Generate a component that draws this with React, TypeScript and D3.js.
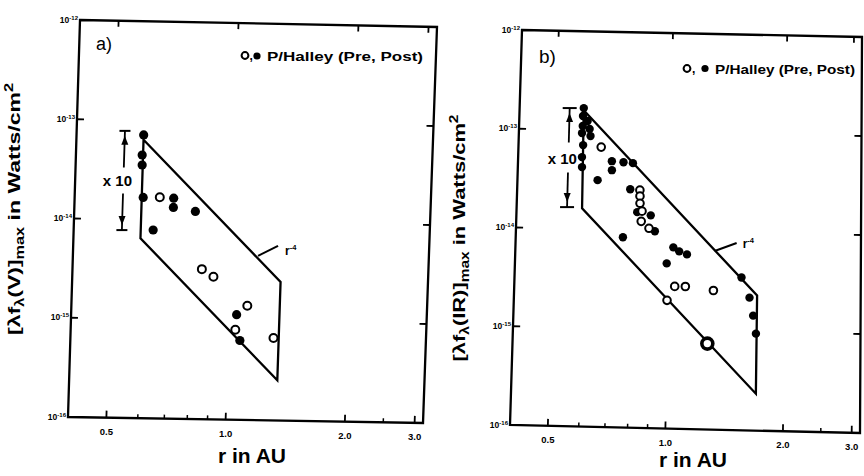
import React from 'react';
import * as d3 from 'd3';

type Pt = [number, number];

// ---- axis ticks ----
const xMajorTicks = [0.5, 1.0, 2.0, 3.0];
const xMajorLabels = ['0.5', '1.0', '2.0', '3.0'];
const xMinorTicks = [0.6, 0.7, 0.8, 0.9, 2.5];
const yDecades = [1e-12, 1e-13, 1e-14, 1e-15, 1e-16];
const yDecadeExps = ['-12', '-13', '-14', '-15', '-16'];

// ---- panel a: visual [λfλ(V)]max vs r (AU) ----
const aPost: Pt[] = [
  [0.59, 7.15e-14], [0.587, 4.49e-14], [0.588, 3.56e-14], [0.595, 1.68e-14],
  [0.634, 7.92e-15], [0.71, 1.67e-14], [0.71, 1.35e-14], [0.807, 1.24e-14],
  [1.045, 1.15e-15], [1.07, 6.32e-16],
];
const aPre: Pt[] = [
  [0.655, 1.70e-14], [0.847, 3.26e-15], [0.907, 2.75e-15], [1.11, 1.42e-15],
  [1.04, 8.09e-16], [1.30, 6.79e-16],
];
const aPreBig: Pt[] = [];
const aBand: Pt[] = [[0.59, 6.4e-14], [1.34, 2.5e-15], [1.34, 2.55e-16], [0.59, 6.5e-15]];
const aErrBar = { r: 0.529, top: 7.8e-14, bottom: 7.8e-15 };
const aSlopeAnchor: Pt = [1.17, 4.55e-15];

// ---- panel b: infrared [λfλ(IR)]max vs r (AU) ----
const bPost: Pt[] = [
  [0.589, 1.67e-13], [0.587, 1.39e-13], [0.604, 1.24e-13], [0.587, 1.10e-13],
  [0.612, 1.03e-13], [0.585, 9.32e-14], [0.616, 8.73e-14], [0.590, 7.05e-14],
  [0.587, 5.33e-14], [0.588, 4.22e-14], [0.703, 4.92e-14], [0.704, 3.99e-14],
  [0.754, 4.83e-14], [0.798, 4.75e-14], [0.647, 3.14e-14], [0.788, 2.58e-14],
  [0.824, 1.52e-14], [0.894, 1.42e-14], [0.918, 9.82e-15], [0.759, 8.41e-15],
  [1.027, 6.82e-15], [1.064, 6.23e-15], [1.115, 5.83e-15], [0.989, 4.68e-15],
  [1.547, 3.50e-15], [1.625, 2.20e-15], [1.663, 1.45e-15], [1.693, 9.55e-16],
];
const bPre: Pt[] = [
  [0.658, 6.79e-14], [0.835, 2.54e-14], [0.836, 2.21e-14], [0.837, 1.87e-14],
  [0.848, 1.56e-14], [0.845, 1.23e-14], [0.886, 1.05e-14], [1.04, 2.75e-15],
  [1.108, 2.76e-15], [1.31, 2.55e-15], [0.995, 1.98e-15],
];
const bPreBig: Pt[] = [[1.27, 7.39e-16]];
const bBand: Pt[] = [[0.589, 1.59e-13], [1.70, 2.32e-15], [1.70, 2.36e-16], [0.592, 1.62e-14]];
const bErrBar = { r: 0.541, top: 1.66e-13, bottom: 1.65e-14 };
const bSlopeAnchor: Pt = [1.315, 6.4e-15];

const xScale = d3.scaleLog().domain([0.4, 3.15]).range([0, 1]);
const yScale = d3.scaleLog().domain([1e-16, 1e-12]).range([1, 0]);

const FONT = "'Liberation Sans', Arial, Helvetica, sans-serif";

type Cfg = {
  corners: { tl: Pt; tr: Pt; bl: Pt; br: Pt };
  post: Pt[]; pre: Pt[]; preBig: Pt[]; band: Pt[];
  bar: { r: number; top: number; bottom: number };
  barGap: number; capHalf: number;
  slope: Pt; leaderDx: number; leaderDy: number; slopeDx: number; slopeDy: number;
  tag: string; tagPos: Pt; tagSize: number;
  legend: { open: Pt; filled: Pt; textX: number; textY: number; textLen: number; comma: Pt };
  yTitle: { x: number; y: number; len: number; band: string };
  xTitle: { x: number; y: number };
  dotR: number; openR: number;
};

function Panel({ cfg }: { cfg: Cfg }) {
  const { tl, tr, bl, br } = cfg.corners;
  const proj = (s: number, t: number): Pt => [
    (1 - s) * (1 - t) * tl[0] + s * (1 - t) * tr[0] + (1 - s) * t * bl[0] + s * t * br[0],
    (1 - s) * (1 - t) * tl[1] + s * (1 - t) * tr[1] + (1 - s) * t * bl[1] + s * t * br[1],
  ];
  const P = (r: number, f: number) => proj(xScale(r), yScale(f));
  const W = tr[0] - tl[0];
  const H = bl[1] - tl[1];
  const line = d3.line<Pt>().curve(d3.curveLinearClosed);

  const barTop = P(cfg.bar.r, cfg.bar.top);
  const barBot = P(cfg.bar.r, cfg.bar.bottom);
  const midY = (barTop[1] + barBot[1]) / 2;
  const bx = (y: number) => barTop[0] + ((y - barTop[1]) / (barBot[1] - barTop[1])) * (barBot[0] - barTop[0]);
  const slope = P(cfg.slope[0], cfg.slope[1]);
  const sw = 2.3;

  return (
    <g>
      {/* frame */}
      <path d={line([tl, tr, br, bl]) || ''} fill="none" stroke="#000" strokeWidth={sw} />
      {/* y ticks (left + right) */}
      {yDecades.map((d, i) => {
        const t = yScale(d);
        const a = proj(0, t), b = proj(7 / W, t);
        const c = proj(1, t), e = proj(1 - 7 / W, t);
        return (
          <g key={'y' + i}>
            {i > 0 && i < 4 && <line x1={a[0]} y1={a[1]} x2={b[0]} y2={b[1]} stroke="#000" strokeWidth={1.8} />}
            {i > 0 && i < 4 && <line x1={c[0]} y1={c[1]} x2={e[0]} y2={e[1]} stroke="#000" strokeWidth={1.8} />}
            <text x={a[0] - 2} y={a[1] + 2.5} textAnchor="end" fontFamily={FONT} fontWeight="bold" fontSize={8.5}>
              10<tspan fontSize={6} dy={-3}>{yDecadeExps[i]}</tspan>
            </text>
          </g>
        );
      })}
      {/* x ticks */}
      {xMajorTicks.map((v, i) => {
        const s = xScale(v);
        const a = proj(s, 1), b = proj(s, 1 - 7 / H);
        const c = proj(s, 0), e = proj(s, 6 / H);
        return (
          <g key={'x' + i}>
            <line x1={a[0]} y1={a[1]} x2={b[0]} y2={b[1]} stroke="#000" strokeWidth={1.8} />
            <line x1={c[0]} y1={c[1]} x2={e[0]} y2={e[1]} stroke="#000" strokeWidth={1.8} />
            <text x={a[0]} y={a[1] + 17} textAnchor="middle" fontFamily={FONT} fontWeight="bold" fontSize={9.5}>
              {xMajorLabels[i]}
            </text>
          </g>
        );
      })}
      {xMinorTicks.map((v, i) => {
        const s = xScale(v);
        const a = proj(s, 1), b = proj(s, 1 - 4 / H);
        return <line key={'m' + i} x1={a[0]} y1={a[1]} x2={b[0]} y2={b[1]} stroke="#000" strokeWidth={1.5} />;
      })}
      {/* r^-4 band */}
      <path d={line(cfg.band.map(([r, f]) => P(r, f))) || ''} fill="none" stroke="#000" strokeWidth={sw} strokeLinejoin="miter" />
      {/* x10 error bar */}
      <line x1={barTop[0] - cfg.capHalf} y1={barTop[1]} x2={barTop[0] + cfg.capHalf} y2={barTop[1]} stroke="#000" strokeWidth={2} />
      <line x1={barBot[0] - cfg.capHalf} y1={barBot[1]} x2={barBot[0] + cfg.capHalf} y2={barBot[1]} stroke="#000" strokeWidth={2} />
      <line x1={barTop[0]} y1={barTop[1]} x2={bx(midY - cfg.barGap)} y2={midY - cfg.barGap} stroke="#000" strokeWidth={1.8} />
      <line x1={bx(midY + cfg.barGap)} y1={midY + cfg.barGap} x2={barBot[0]} y2={barBot[1]} stroke="#000" strokeWidth={1.8} />
      <path d={`M${bx(barTop[1] + 5)},${barTop[1] + 5} l-3.5,9 l7,0 z`} fill="#000" />
      <path d={`M${bx(barBot[1] - 5)},${barBot[1] - 5} l-3.5,-9 l7,0 z`} fill="#000" />
      <text x={bx(midY) - 6} y={midY + 6} textAnchor="middle" fontFamily={FONT} fontWeight="bold" fontSize={15}>x 10</text>
      {/* slope label */}
      <line x1={slope[0]} y1={slope[1]} x2={slope[0] + cfg.leaderDx} y2={slope[1] + cfg.leaderDy} stroke="#000" strokeWidth={2} />
      <text x={slope[0] + cfg.slopeDx} y={slope[1] + cfg.slopeDy} fontFamily={FONT} fontWeight="bold" fontSize={12}>
        r<tspan fontSize={7.5} dy={-5}>-4</tspan>
      </text>
      {/* points */}
      {cfg.post.map(([r, f], i) => {
        const p = P(r, f);
        return <circle key={'f' + i} cx={p[0]} cy={p[1]} r={cfg.dotR} fill="#000" />;
      })}
      {cfg.pre.map(([r, f], i) => {
        const p = P(r, f);
        return <circle key={'o' + i} cx={p[0]} cy={p[1]} r={cfg.openR} fill="#fff" stroke="#000" strokeWidth={2} />;
      })}
      {cfg.preBig.map(([r, f], i) => {
        const p = P(r, f);
        return <circle key={'ob' + i} cx={p[0]} cy={p[1]} r={5.5} fill="#fff" stroke="#000" strokeWidth={3.6} />;
      })}
      {/* tag */}
      <text x={cfg.tagPos[0]} y={cfg.tagPos[1]} fontFamily={FONT} fontSize={cfg.tagSize}>{cfg.tag}</text>
      {/* legend */}
      <circle cx={cfg.legend.open[0]} cy={cfg.legend.open[1]} r={3.4} fill="#fff" stroke="#000" strokeWidth={2} />
      <text x={cfg.legend.comma[0]} y={cfg.legend.comma[1]} fontFamily={FONT} fontWeight="bold" fontSize={12}>,</text>
      <circle cx={cfg.legend.filled[0]} cy={cfg.legend.filled[1]} r={3.6} fill="#000" />
      <text x={cfg.legend.textX} y={cfg.legend.textY} fontFamily={FONT} fontWeight="bold" fontSize={12.5}
        textLength={cfg.legend.textLen} lengthAdjust="spacingAndGlyphs">P/Halley (Pre, Post)</text>
      {/* axis titles */}
      <text transform={`translate(${cfg.yTitle.x},${cfg.yTitle.y}) rotate(-90)`} textAnchor="middle"
        fontFamily={FONT} fontWeight="bold" fontSize={17} textLength={cfg.yTitle.len} lengthAdjust="spacingAndGlyphs">
        [λf<tspan dy={4} fontSize={12}>λ</tspan><tspan dy={-4}>{'(' + cfg.yTitle.band + ')]'}</tspan>
        <tspan dy={4} fontSize={12}>max</tspan><tspan dy={-4}>{' in Watts/cm'}</tspan>
        <tspan dy={-7} fontSize={12}>2</tspan>
      </text>
      <text x={cfg.xTitle.x} y={cfg.xTitle.y} textAnchor="middle" fontFamily={FONT} fontWeight="bold" fontSize={21}>r in AU</text>
    </g>
  );
}

const panelA: Cfg = {
  corners: { tl: [80, 20], tr: [437, 27], bl: [68, 417], br: [423, 423] },
  post: aPost, pre: aPre, preBig: aPreBig, band: aBand,
  bar: aErrBar, barGap: 13, capHalf: 5.5,
  slope: aSlopeAnchor, leaderDx: 20, leaderDy: -10, slopeDx: 27, slopeDy: -1,
  tag: 'a)', tagPos: [96, 50], tagSize: 18,
  legend: { open: [245, 55.5], comma: [249.5, 60], filled: [257, 56], textX: 267, textY: 60.5, textLen: 156 },
  yTitle: { x: 20, y: 209, len: 252, band: 'V' },
  xTitle: { x: 252, y: 463 },
  dotR: 4.6, openR: 4,
};

const panelB: Cfg = {
  corners: { tl: [522, 30], tr: [862, 37], bl: [510, 425], br: [860, 433] },
  post: bPost, pre: bPre, preBig: bPreBig, band: bBand,
  bar: bErrBar, barGap: 15, capHalf: 7,
  slope: bSlopeAnchor, leaderDx: 22, leaderDy: -8, slopeDx: 28, slopeDy: -3,
  tag: 'b)', tagPos: [539, 63], tagSize: 19,
  legend: { open: [687, 68.5], comma: [692, 73], filled: [705, 68.5], textX: 715, textY: 73.5, textLen: 140 },
  yTitle: { x: 465, y: 238, len: 247, band: 'IR' },
  xTitle: { x: 693, y: 467 },
  dotR: 4.2, openR: 3.8,
};

export default function App() {
  return (
    <svg width={864} height={476} viewBox="0 0 864 476"
      style={{ position: 'absolute', left: 0, top: 0, background: '#fff', display: 'block' }}>
      <rect x={0} y={0} width={864} height={476} fill="#fff" />
      <Panel cfg={panelA} />
      <Panel cfg={panelB} />
    </svg>
  );
}
